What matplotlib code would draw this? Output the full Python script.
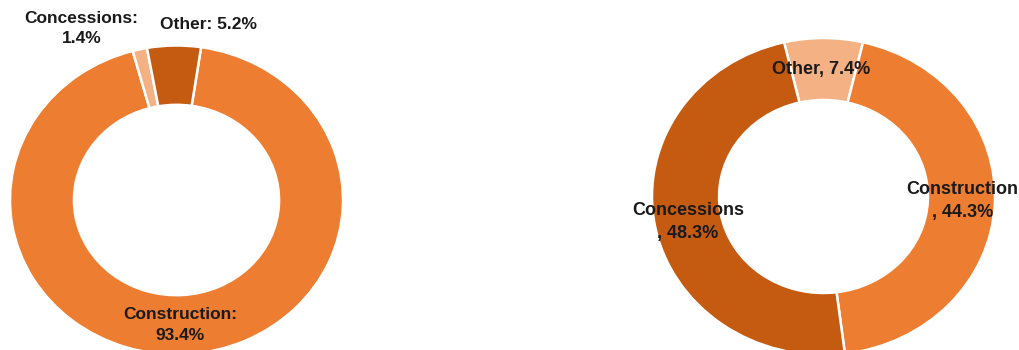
import matplotlib.pyplot as plt

# left donut
left_names = ["Construction", "Concessions", "Other"]
left_values = [93.4, 1.4, 5.2]
left_colors = ["#ED7D31", "#F4B183", "#C55A11"]

# right donut
right_names = ["Other", "Construction", "Concessions"]
right_values = [7.4, 44.3, 48.3]
right_colors = ["#F4B183", "#ED7D31", "#C55A11"]

W, H = 1019, 350
fig = plt.figure(figsize=(W / 100, H / 100), dpi=100)
plt.rcParams['font.family'] = ['Liberation Sans', 'DejaVu Sans']


def donut_axes(cx, cy, rx, ry):
    # cx, cy, rx, ry in pixels (origin top-left)
    ax = fig.add_axes([(cx - rx) / W, (H - cy - ry) / H, 2 * rx / W, 2 * ry / H])
    return ax


def draw(ax, values, colors, start, hole):
    ax.pie(values, colors=colors, startangle=start, counterclock=False,
           radius=1.0, wedgeprops=dict(width=1 - hole, edgecolor="white", linewidth=1.8))
    ax.set_aspect("auto")
    ax.set_xlim(-1, 1)
    ax.set_ylim(-1, 1)
    ax.axis("off")


tkw = dict(ha="center", va="center", fontweight="bold",
           color="#1a1a1a", linespacing=1.45)

# ---- left chart
axl = donut_axes(176.5, 200, 166.5, 154.5)
draw(axl, left_values, left_colors, 81.5, 0.616)
left_pos = {"Construction": (0.02, -0.81), "Concessions": (-0.57, 1.11), "Other": (0.19, 1.135)}
for n, v in zip(left_names, left_values):
    if n == "Other":
        s = f"{n}: {v}%"
    else:
        s = f"{n}:\n{v}%"
    axl.text(*left_pos[n], s, fontsize=12.5, **tkw)

# ---- right chart
axr = donut_axes(823.5, 196.5, 171.5, 158.5)
draw(axr, right_values, right_colors, 103.3, 0.609)
right_pos = {"Other": (-0.015, 0.80), "Construction": (0.81, -0.03), "Concessions": (-0.79, -0.16)}
for n, v in zip(right_names, right_values):
    if n == "Other":
        s = f"{n}, {v}%"
    else:
        s = f"{n}\n, {v}%"
    axr.text(*right_pos[n], s, fontsize=13, **tkw)

fig.savefig("out.png", dpi=100)
